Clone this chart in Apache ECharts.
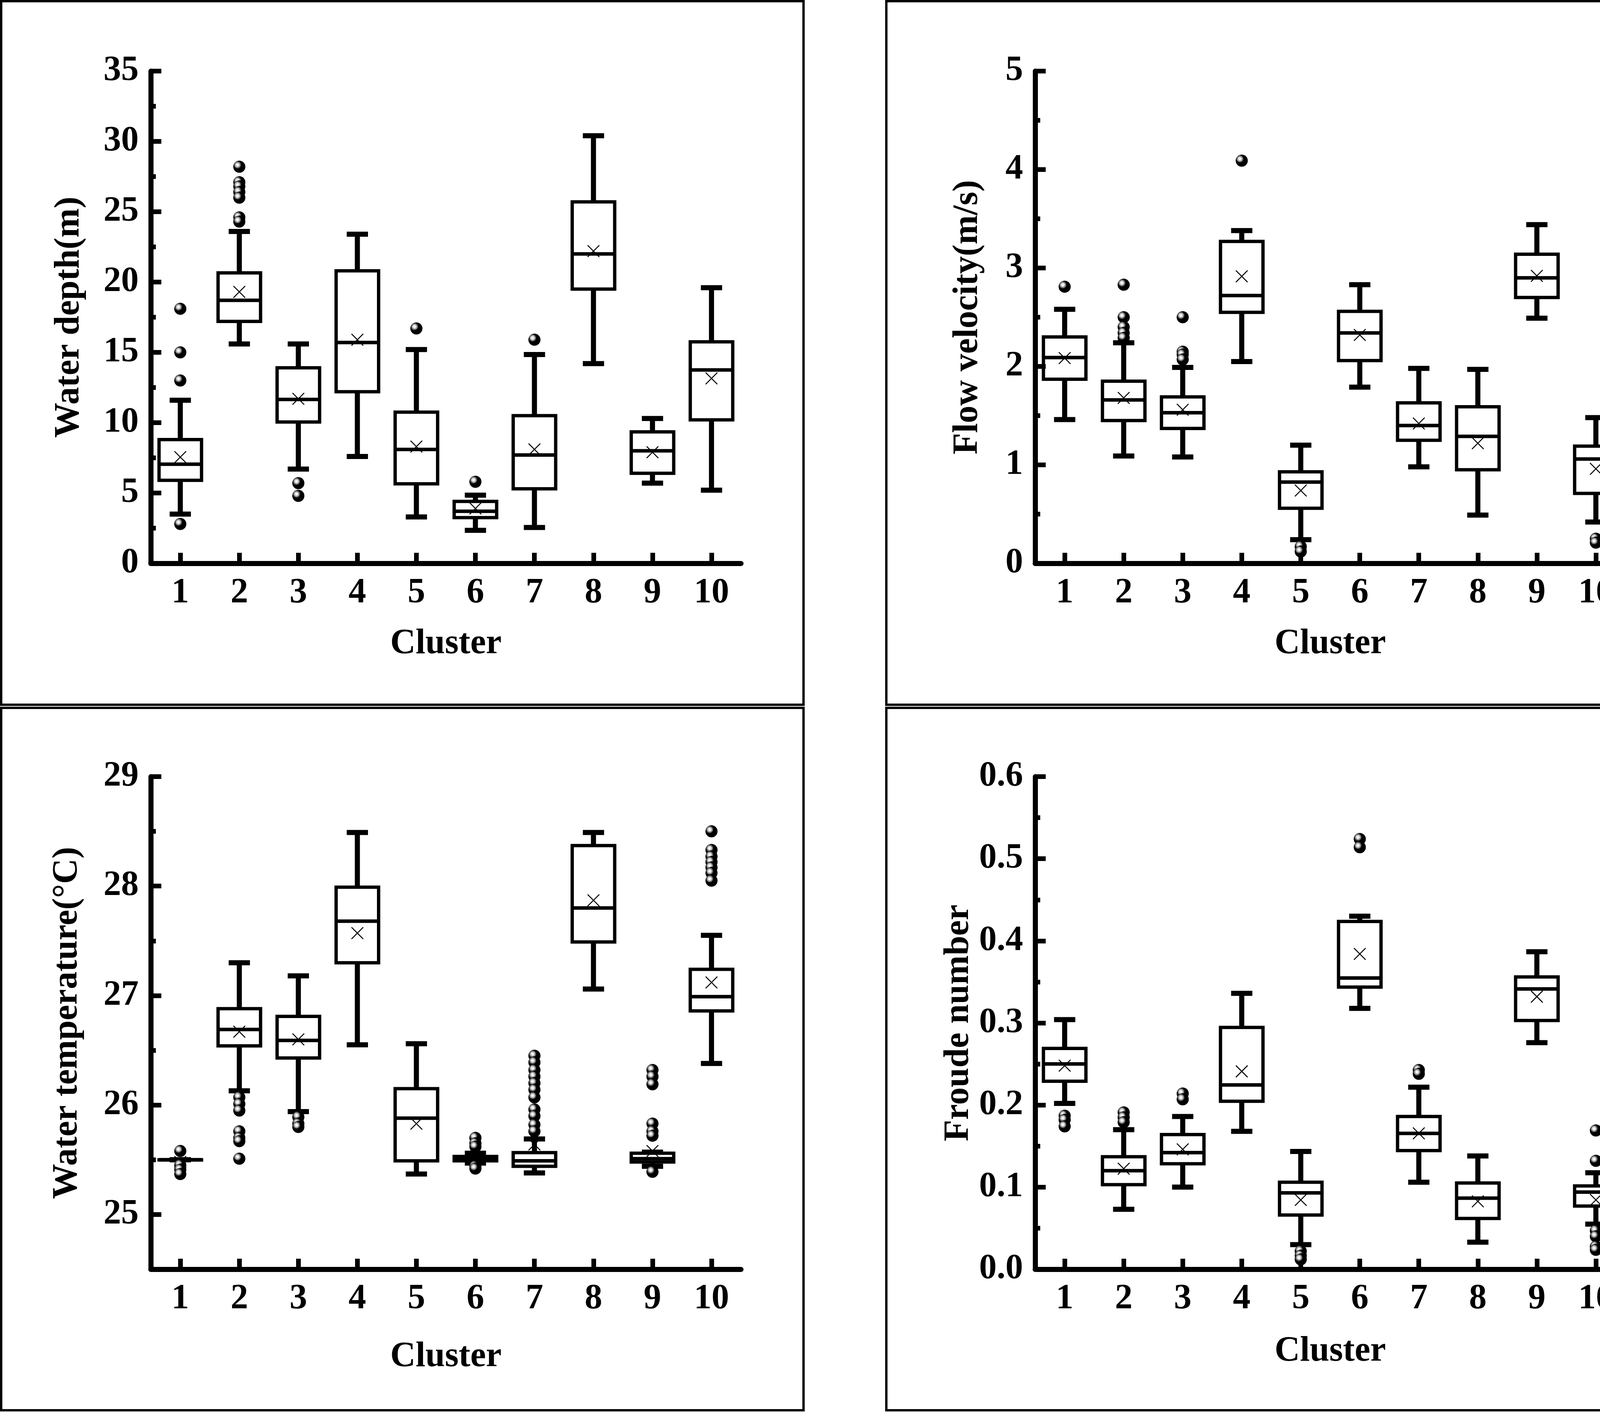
<!DOCTYPE html>
<html>
<head>
<meta charset="utf-8">
<script src="https://cdn.jsdelivr.net/npm/echarts@6/dist/echarts.min.js"></script>
<style>
html,body{margin:0;padding:0;background:#ffffff;}
#chart{width:4326px;height:3617px;}
</style>
</head>
<body>
<div id="chart"></div>
<script>
// ---------- categories ----------
const clusters = ['1', '2', '3', '4', '5', '6', '7', '8', '9', '10'];

// ---------- Water depth (m): [lower whisker, Q1, median, Q3, upper whisker] ----------
const depthBoxes = [
  [3.5, 5.9, 7.05, 8.8, 11.6],
  [15.6, 17.2, 18.7, 20.65, 23.6],
  [6.7, 10.05, 11.65, 13.9, 15.6],
  [7.6, 12.2, 15.7, 20.8, 23.4],
  [3.3, 5.65, 8.1, 10.75, 15.2],
  [2.35, 3.25, 3.7, 4.4, 4.85],
  [2.55, 5.3, 7.7, 10.5, 14.85],
  [14.2, 19.5, 22.0, 25.7, 30.4],
  [5.7, 6.4, 8.0, 9.35, 10.3],
  [5.2, 10.2, 13.75, 15.75, 19.6]
];
const depthMeans = [7.55, 19.3, 11.7, 15.9, 8.3, 3.9, 8.1, 22.2, 7.9, 13.15];
const depthOutliers = [
  [18.1, 15.0, 13.0, 2.8],
  [28.2, 27.1, 26.8, 26.4, 26.0, 24.6, 24.3],
  [5.7, 4.8],
  [],
  [16.7],
  [5.8],
  [15.9],
  [],
  [],
  []
];
const depthTicks = [0, 5, 10, 15, 20, 25, 30, 35];
const depthMinorTicks = [2.5, 7.5, 12.5, 17.5, 22.5, 27.5, 32.5];

// ---------- Flow velocity (m/s) ----------
const velocityBoxes = [
  [1.46, 1.87, 2.09, 2.30, 2.58],
  [1.09, 1.45, 1.66, 1.85, 2.24],
  [1.08, 1.37, 1.53, 1.69, 1.99],
  [2.05, 2.55, 2.72, 3.27, 3.38],
  [0.24, 0.56, 0.825, 0.93, 1.20],
  [1.79, 2.06, 2.34, 2.56, 2.83],
  [0.98, 1.25, 1.40, 1.63, 1.98],
  [0.49, 0.95, 1.29, 1.59, 1.97],
  [2.49, 2.70, 2.90, 3.14, 3.44],
  [0.42, 0.71, 1.06, 1.19, 1.48]
];
const velocityMeans = [2.085, 1.68, 1.56, 2.915, 0.74, 2.32, 1.42, 1.22, 2.92, 0.96];
const velocityOutliers = [
  [2.81],
  [2.83, 2.50, 2.40, 2.34, 2.29],
  [2.50, 2.15, 2.12, 2.07],
  [4.09],
  [0.17, 0.12],
  [],
  [],
  [],
  [],
  [0.25, 0.21]
];
const velocityTicks = [0, 1, 2, 3, 4, 5];
const velocityMinorTicks = [0.5, 1.5, 2.5, 3.5, 4.5];

// ---------- Water temperature (°C) ----------
const tempBoxes = [
  [25.5, 25.5, 25.5, 25.5, 25.5],
  [26.13, 26.54, 26.69, 26.88, 27.30],
  [25.94, 26.43, 26.59, 26.81, 27.18],
  [26.55, 27.30, 27.68, 27.99, 28.49],
  [25.37, 25.49, 25.88, 26.15, 26.56],
  [25.47, 25.49, 25.51, 25.53, 25.56],
  [25.38, 25.44, 25.49, 25.565, 25.69],
  [27.06, 27.49, 27.80, 28.37, 28.49],
  [25.44, 25.48, 25.51, 25.56, 25.57],
  [26.38, 26.86, 26.99, 27.24, 27.55]
];
const tempMeans = [25.48, 26.67, 26.60, 27.57, 25.83, 25.51, 25.64, 27.87, 25.58, 27.12];
const tempOutliers = [
  [25.58, 25.45, 25.41, 25.37],
  [26.07, 26.01, 25.95, 25.76, 25.70, 25.67, 25.51],
  [25.89, 25.83, 25.80],
  [],
  [],
  [25.70, 25.65, 25.62, 25.44, 25.42],
  [26.45, 26.39, 26.32, 26.26, 26.20, 26.14, 26.07, 25.96, 25.90, 25.82, 25.76],
  [],
  [26.32, 26.26, 26.19, 25.83, 25.76, 25.72, 25.39],
  [28.50, 28.33, 28.27, 28.22, 28.17, 28.12, 28.05]
];
const tempTicks = [25, 26, 27, 28, 29];
const tempMinorTicks = [25.5, 26.5, 27.5, 28.5];

// ---------- Froude number ----------
const froudeBoxes = [
  [0.202, 0.229, 0.250, 0.269, 0.304],
  [0.073, 0.103, 0.120, 0.137, 0.170],
  [0.100, 0.1285, 0.142, 0.164, 0.186],
  [0.168, 0.2046, 0.2245, 0.2945, 0.336],
  [0.030, 0.066, 0.093, 0.106, 0.1434],
  [0.3177, 0.3436, 0.3547, 0.4236, 0.430],
  [0.106, 0.1445, 0.1655, 0.186, 0.2217],
  [0.033, 0.0618, 0.0866, 0.105, 0.138],
  [0.276, 0.303, 0.3414, 0.356, 0.3867],
  [0.055, 0.077, 0.094, 0.1015, 0.1175]
];
const froudeMeans = [0.248, 0.1225, 0.146, 0.241, 0.0844, 0.384, 0.1655, 0.0827, 0.332, 0.0844];
const froudeOutliers = [
  [0.187, 0.182, 0.174],
  [0.191, 0.185, 0.179],
  [0.214, 0.207],
  [],
  [0.022, 0.0165, 0.012],
  [0.524, 0.514],
  [0.2427, 0.238],
  [],
  [],
  [0.169, 0.132, 0.047, 0.040, 0.0276, 0.0237]
];
const froudeTicks = [0, 0.1, 0.2, 0.3, 0.4, 0.5, 0.6];
const froudeMinorTicks = [0.05, 0.15, 0.25, 0.35, 0.45, 0.55];

// ---------- styling ----------
const FONT = "'Liberation Serif', 'Times New Roman', serif";
const FS = 90;
const textStyle = { fontFamily: FONT, fontSize: FS, fontWeight: 'bold', color: '#000' };

const panels = [
  { title: 'Water depth(m)', boxes: depthBoxes, means: depthMeans, outliers: depthOutliers,
    ticks: depthTicks, minor: depthMinorTicks, min: 0, max: 35, interval: 5, fmt: v => String(v),
    grid: { left: 386, top: 182, width: 1511, height: 1260 }, yGap: 163, xGap: 162 },
  { title: 'Flow velocity(m/s)', boxes: velocityBoxes, means: velocityMeans, outliers: velocityOutliers,
    ticks: velocityTicks, minor: velocityMinorTicks, min: 0, max: 5, interval: 1, fmt: v => String(v),
    grid: { left: 2650, top: 182, width: 1511, height: 1260 }, yGap: 127, xGap: 162 },
  { title: 'Water temperature(°C)', boxes: tempBoxes, means: tempMeans, outliers: tempOutliers,
    ticks: tempTicks, minor: tempMinorTicks, min: 24.5, max: 29, interval: 0.5, fmt: v => String(Math.round(v)),
    grid: { left: 386, top: 1988, width: 1511, height: 1261 }, yGap: 168, xGap: 180 },
  { title: 'Froude number', boxes: froudeBoxes, means: froudeMeans, outliers: froudeOutliers,
    ticks: froudeTicks, minor: froudeMinorTicks, min: 0, max: 0.6, interval: 0.1, fmt: v => Number(v).toFixed(1),
    grid: { left: 2650, top: 1988, width: 1511, height: 1261 }, yGap: 150, xGap: 166 }
];

const sphere = {
  type: 'radial', x: 0.35, y: 0.35, r: 0.62,
  colorStops: [
    { offset: 0, color: '#ffffff' },
    { offset: 0.14, color: '#f2f2f2' },
    { offset: 0.3, color: '#aaaaaa' },
    { offset: 0.42, color: '#505050' },
    { offset: 0.52, color: '#000000' },
    { offset: 1, color: '#000000' }
  ]
};

function renderBox(params, api) {
  const i = api.value(0);
  const pLo = api.coord([i, api.value(1)]);
  const pQ1 = api.coord([i, api.value(2)]);
  const pMed = api.coord([i, api.value(3)]);
  const pQ3 = api.coord([i, api.value(4)]);
  const pHi = api.coord([i, api.value(5)]);
  const pMean = api.coord([i, api.value(6)]);
  const band = api.size([1, 0])[0];
  const cx = pMed[0];
  const bw = band * 0.72;
  const cw = band * 0.36;
  const m = 15;
  const line = (x1, y1, x2, y2, w) => ({
    type: 'line', shape: { x1, y1, x2, y2 },
    style: { stroke: '#000', lineWidth: w, fill: null }
  });
  return {
    type: 'group',
    children: [
      line(cx, pQ3[1], cx, pHi[1], 13),
      line(cx, pQ1[1], cx, pLo[1], 13),
      line(cx - cw / 2, pHi[1], cx + cw / 2, pHi[1], 13),
      line(cx - cw / 2, pLo[1], cx + cw / 2, pLo[1], 13),
      { type: 'rect',
        shape: { x: cx - bw / 2, y: pQ3[1], width: bw, height: Math.max(pQ1[1] - pQ3[1], 0.5) },
        style: { stroke: '#000', lineWidth: 8.5, fill: null } },
      line(cx - bw / 2, pMed[1], cx + bw / 2, pMed[1], 9),
      line(cx - m, pMean[1] - m, cx + m, pMean[1] + m, 2.5),
      line(cx - m, pMean[1] + m, cx + m, pMean[1] - m, 2.5)
    ]
  };
}

const option = {
  backgroundColor: '#ffffff',
  animation: false,
  grid: [], xAxis: [], yAxis: [], series: [],
  graphic: [
    { type: 'rect', shape: { x: 3, y: 3, width: 2054, height: 1801 }, style: { stroke: '#000', lineWidth: 6, fill: null } },
    { type: 'rect', shape: { x: 2269, y: 3, width: 2052, height: 1801 }, style: { stroke: '#000', lineWidth: 6, fill: null } },
    { type: 'rect', shape: { x: 3, y: 1812, width: 2054, height: 1798 }, style: { stroke: '#000', lineWidth: 6, fill: null } },
    { type: 'rect', shape: { x: 2269, y: 1812, width: 2052, height: 1798 }, style: { stroke: '#000', lineWidth: 6, fill: null } }
  ]
};

panels.forEach((p, k) => {
  option.grid.push(Object.assign({ containLabel: false }, p.grid));
  option.xAxis.push({
    type: 'category', gridIndex: k, data: clusters, boundaryGap: true,
    name: 'Cluster', nameLocation: 'middle', nameGap: p.xGap, nameTextStyle: textStyle,
    axisLine: { show: true, onZero: false, lineStyle: { color: '#000', width: 13 } },
    axisTick: { show: true, alignWithLabel: true, inside: true, length: 27, lineStyle: { color: '#000', width: 12 } },
    axisLabel: Object.assign({ margin: 32, interval: 0 }, textStyle),
    splitLine: { show: false }
  });
  option.yAxis.push({
    type: 'value', gridIndex: k, min: p.min, max: p.max, interval: p.interval,
    name: p.title, nameLocation: 'middle', nameGap: p.yGap, nameTextStyle: textStyle,
    axisLine: { show: true, onZero: false, lineStyle: { color: '#000', width: 13 } },
    axisTick: { show: true, inside: true, length: 27, customValues: p.ticks, lineStyle: { color: '#000', width: 12 } },
    axisLabel: Object.assign({ margin: 31, customValues: p.ticks, formatter: p.fmt }, textStyle),
    splitLine: { show: false }
  });
  option.yAxis.push({
    type: 'value', gridIndex: k, min: p.min, max: p.max, interval: p.interval, position: 'left',
    axisLine: { show: false },
    axisTick: { show: true, inside: true, length: 13, customValues: p.minor, lineStyle: { color: '#000', width: 12 } },
    axisLabel: { show: false },
    splitLine: { show: false }
  });
  const boxData = p.boxes.map((b, i) => [i].concat(b, [p.means[i]]));
  option.series.push({
    type: 'custom', xAxisIndex: k, yAxisIndex: 2 * k, z: 3,
    renderItem: renderBox,
    encode: { x: 0, y: [1, 2, 3, 4, 5, 6] },
    data: boxData
  });
  const outData = [];
  p.outliers.forEach((arr, i) => arr.forEach(v => outData.push([i, v])));
  option.series.push({
    type: 'scatter', xAxisIndex: k, yAxisIndex: 2 * k, z: 4,
    symbol: 'circle', symbolSize: 31,
    itemStyle: { color: sphere, opacity: 1 },
    data: outData
  });
});

const chart = echarts.init(document.getElementById('chart'), null, { renderer: 'canvas' });
chart.setOption(option);
</script>
</body>
</html>
